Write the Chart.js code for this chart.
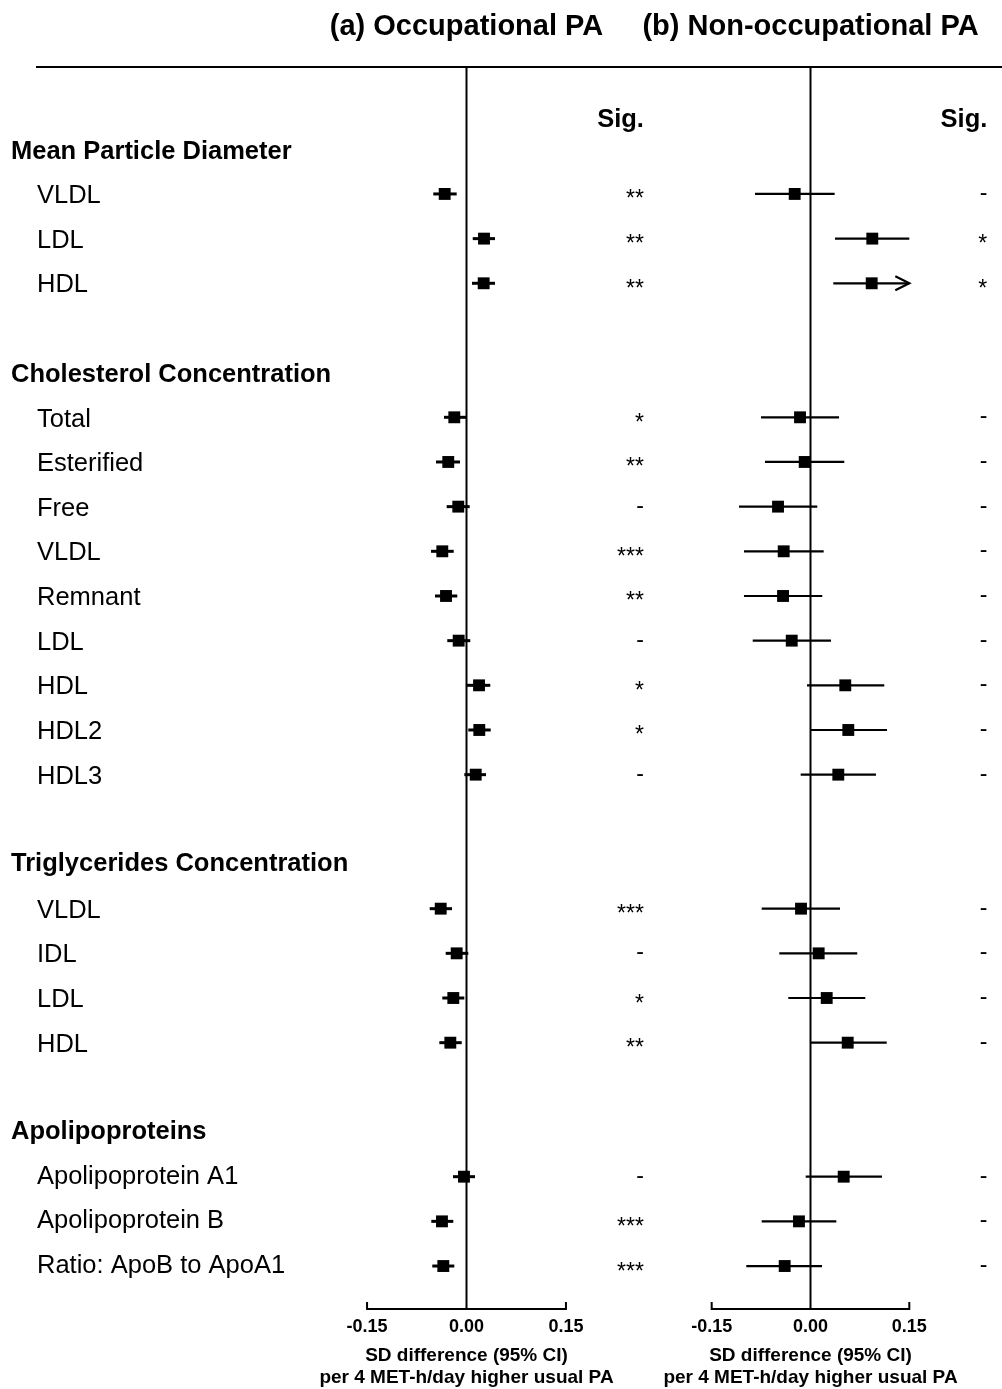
<!DOCTYPE html>
<html>
<head>
<meta charset="utf-8">
<script src="https://cdn.jsdelivr.net/npm/chart.js@4.4.0/dist/chart.umd.min.js"></script>
<style>
  html, body { margin: 0; padding: 0; background: #fff; }
  #wrap { position: relative; width: 1002px; height: 1389px; }
  #wrap canvas { position: absolute; left: 0; top: 0; }
</style>
</head>
<body>
<div id="wrap">
  <canvas id="occChart" width="1002" height="1389"></canvas>
  <canvas id="nonChart" width="1002" height="1389"></canvas>
</div>
<script>
const groups = ['Mean Particle Diameter', 'Cholesterol Concentration', 'Triglycerides Concentration', 'Apolipoproteins'];
const measures = [
  ['VLDL', 'LDL', 'HDL'],
  ['Total', 'Esterified', 'Free', 'VLDL', 'Remnant', 'LDL', 'HDL', 'HDL2', 'HDL3'],
  ['VLDL', 'IDL', 'LDL', 'HDL'],
  ['Apolipoprotein A1', 'Apolipoprotein B', 'Ratio: ApoB to ApoA1']
];
const tickValues = [-0.15, 0, 0.15];

// (a) Occupational PA
const occEst = [-0.0329, 0.0264, 0.0259,
  -0.0184, -0.0275, -0.0124, -0.0365, -0.0309, -0.0118, 0.0189, 0.0193, 0.0139,
  -0.0389, -0.0148, -0.0199, -0.0244,
  -0.0038, -0.0370, -0.0350];
const occLo = [-0.0501, 0.0094, 0.0083,
  -0.0339, -0.0460, -0.0299, -0.0535, -0.0475, -0.0290, 0.0008, 0.0027, -0.0033,
  -0.0555, -0.0314, -0.0365, -0.0410,
  -0.0204, -0.0531, -0.0516];
const occHi = [-0.0148, 0.0430, 0.0430,
  -0.0008, -0.0098, 0.0048, -0.0193, -0.0139, 0.0057, 0.0359, 0.0365, 0.0294,
  -0.0219, 0.0027, -0.0033, -0.0072,
  0.0128, -0.0199, -0.0184];
const occSig = ['**', '**', '**',
  '*', '**', '-', '***', '**', '-', '*', '*', '-',
  '***', '-', '*', '**',
  '-', '***', '***'];

// (b) Non-occupational PA
const nonEst = [-0.0240, 0.0938, 0.0929,
  -0.0159, -0.0088, -0.0493, -0.0407, -0.0417, -0.0285, 0.0528, 0.0574, 0.0422,
  -0.0144, 0.0124, 0.0246, 0.0565,
  0.0504, -0.0175, -0.0392];
const nonLo = [-0.0843, 0.0372, 0.0346,
  -0.0751, -0.0691, -0.1085, -0.1010, -0.1010, -0.0877, -0.0053, 0.0003, -0.0149,
  -0.0741, -0.0474, -0.0337, 0.0003,
  -0.0073, -0.0741, -0.0975];
const nonHi = [0.0367, 0.1500, 0.1700,
  0.0433, 0.0513, 0.0103, 0.0200, 0.0179, 0.0311, 0.1120, 0.1161, 0.0994,
  0.0448, 0.0710, 0.0832, 0.1157,
  0.1085, 0.0392, 0.0175];
const nonSig = ['-', '*', '*',
  '-', '-', '-', '-', '-', '-', '-', '-', '-',
  '-', '-', '-', '-',
  '-', '-', '-'];

// row positions: one row per header, one per measure, one blank row between groups
const rowOf = [];
const labelRows = [];
let r = 0;
groups.forEach((g, gi) => {
  labelRows.push({ text: g, row: r, header: true });
  r++;
  measures[gi].forEach(m => {
    labelRows.push({ text: m, row: r, header: false });
    rowOf.push(r);
    r++;
  });
  r++;
});

const FONT = '"Liberation Sans", Arial, Helvetica, sans-serif';
Chart.defaults.font.family = FONT;
Chart.defaults.color = '#000';

const axisLo = tickValues[0];
const axisHi = tickValues[tickValues.length - 1];

function drawCentered(ctx, text, x, cy) {
  const m = ctx.measureText(text);
  ctx.fillText(text, x, cy + (m.actualBoundingBoxAscent - m.actualBoundingBoxDescent) / 2);
}

function forestPlugin(cfg) {
  return {
    id: 'forest',
    beforeDatasetsDraw(chart) {
      const { ctx, chartArea, scales: { x, y } } = chart;
      const bottom = chartArea.bottom;
      ctx.save();
      ctx.strokeStyle = '#000';
      ctx.lineWidth = 2;
      if (cfg.topLine) {
        ctx.beginPath();
        ctx.moveTo(36, chartArea.top);
        ctx.lineTo(1002, chartArea.top);
        ctx.stroke();
      }
      const x0 = x.getPixelForValue(0);
      ctx.beginPath();
      ctx.moveTo(x0, chartArea.top);
      ctx.lineTo(x0, bottom);
      ctx.stroke();
      // axis line between the end ticks, ticks pointing inward
      const xa = x.getPixelForValue(axisLo);
      const xb = x.getPixelForValue(axisHi);
      ctx.beginPath();
      ctx.moveTo(xa, bottom - 7);
      ctx.lineTo(xa, bottom);
      ctx.lineTo(xb, bottom);
      ctx.lineTo(xb, bottom - 7);
      ctx.stroke();
      ctx.lineWidth = cfg.ciWidth;
      cfg.lo.forEach((l, i) => {
        const py = y.getPixelForValue(rowOf[i]);
        const clipped = cfg.hi[i] > axisHi;
        const xl = x.getPixelForValue(Math.max(l, axisLo));
        const xh = x.getPixelForValue(Math.min(cfg.hi[i], axisHi));
        ctx.beginPath();
        ctx.moveTo(xl, py);
        ctx.lineTo(xh, py);
        ctx.stroke();
        if (clipped) {
          ctx.beginPath();
          ctx.moveTo(xh - 14, py - 7);
          ctx.lineTo(xh, py);
          ctx.lineTo(xh - 14, py + 7);
          ctx.stroke();
        }
      });
      ctx.restore();
    },
    afterDraw(chart) {
      const { ctx, scales: { x, y } } = chart;
      ctx.save();
      ctx.fillStyle = '#000';
      ctx.textBaseline = 'alphabetic';
      ctx.font = 'bold 29px ' + FONT;
      ctx.textAlign = 'center';
      drawCentered(ctx, cfg.title, x.getPixelForValue(0), 26.5);
      const sx = x.getPixelForValue(axisHi) + 78;
      ctx.textAlign = 'right';
      ctx.font = 'bold 25.5px ' + FONT;
      drawCentered(ctx, 'Sig.', sx, y.getPixelForValue(-0.65));
      ctx.font = '23px ' + FONT;
      cfg.sig.forEach((s, i) => {
        drawCentered(ctx, s, sx, y.getPixelForValue(rowOf[i]));
      });
      if (cfg.labels) {
        ctx.textAlign = 'left';
        labelRows.forEach(lr => {
          ctx.font = (lr.header ? 'bold ' : '') + '25.5px ' + FONT;
          drawCentered(ctx, lr.text, lr.header ? 11 : 37, y.getPixelForValue(lr.row));
        });
      }
      ctx.restore();
    }
  };
}

function makeChart(id, est, lo, hi, sig, title, padLeft, padRight, withLabels, ciWidth) {
  return new Chart(document.getElementById(id), {
    type: 'scatter',
    data: {
      datasets: [{
        data: est.map((v, i) => ({ x: v, y: rowOf[i] })),
        pointStyle: 'rect',
        pointRadius: 8.4,
        pointHoverRadius: 8.4,
        backgroundColor: '#000',
        borderWidth: 0,
        clip: false
      }]
    },
    options: {
      responsive: false,
      animation: false,
      devicePixelRatio: 1,
      events: [],
      layout: { padding: { left: padLeft, right: padRight, top: 67, bottom: 0 } },
      plugins: { legend: { display: false }, tooltip: { enabled: false } },
      scales: {
        x: {
          type: 'linear',
          min: -0.235,
          max: 0.235,
          afterBuildTicks: s => { s.ticks = tickValues.map(v => ({ value: v })); },
          afterFit: s => { s.height = 80; },
          ticks: {
            padding: 7.5,
            maxRotation: 0,
            autoSkip: false,
            font: { size: 18, weight: 'bold', lineHeight: 1.2 },
            color: '#000',
            callback: v => v.toFixed(2)
          },
          grid: { display: true, drawOnChartArea: false, drawTicks: false },
          border: { display: false },
          title: {
            display: true,
            text: ['SD difference (95% CI)', 'per 4 MET-h/day higher usual PA'],
            font: { size: 19, weight: 'bold', lineHeight: 1.158 },
            color: '#000',
            padding: { top: 8, bottom: 0 }
          }
        },
        y: {
          type: 'linear',
          display: false,
          reverse: true,
          min: -1.842,
          max: 25.962
        }
      }
    },
    plugins: [forestPlugin({ lo, hi, sig, title, labels: withLabels, topLine: withLabels, ciWidth })]
  });
}

makeChart('occChart', occEst, occLo, occHi, occSig, '(a) Occupational PA', 310.7, 379.7, true, 3);
makeChart('nonChart', nonEst, nonLo, nonHi, nonSig, '(b) Non-occupational PA', 655.7, 36.7, false, 2.2);
</script>
</body>
</html>
